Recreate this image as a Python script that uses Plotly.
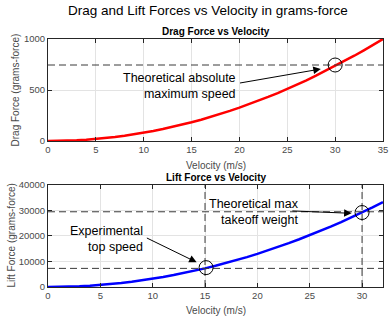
import plotly.graph_objects as go

# ---------------- data ----------------
drag_velocity = list(range(0, 36))
drag_force = [0, 1, 3, 7, 13, 20, 29, 40, 52, 66, 82, 99, 118, 138, 160, 184, 209, 236,
              265, 295, 327, 360, 395, 432, 470, 510, 552, 595, 640, 687, 735, 785, 836,
              889, 944, 1000]

lift_velocity = list(range(0, 33))
lift_force = [0, 30, 130, 290, 520, 810, 1170, 1590, 2080, 2630, 3250, 3930, 4680, 5490,
              6370, 7310, 8320, 9390, 10530, 11730, 13000, 14330, 15730, 17190, 18720,
              20310, 21970, 23690, 25480, 27330, 29250, 31230, 33280]

drag_max_level = 745
drag_circle = (30, 745)
lift_levels = [29500, 7300]
lift_vlines = [15, 30]
lift_circles_x = [15.1, 30]
lift_circles_y = [7600, 29200]

drag_xticks = [0, 5, 10, 15, 20, 25, 30, 35]
drag_yticks = [0, 500, 1000]
lift_xticks = [0, 5, 10, 15, 20, 25, 30]
lift_yticks = [0, 10000, 20000, 30000, 40000]
lift_yticklabels = ["0", "10000", "20000", "30000", "40000"]

FONT = "Liberation Sans, Arial, Helvetica, sans-serif"
AX = "#262626"
TICKC = "#4a4a4a"
GRID = "#e3e3e3"
DASHC = "#3a3a3a"

fig = go.Figure()

# drag curve
fig.add_trace(go.Scatter(x=drag_velocity, y=drag_force, mode="lines",
                         line=dict(color="#ff0000", width=2.5), xaxis="x", yaxis="y",
                         showlegend=False, hoverinfo="skip"))
# drag dashed level
fig.add_trace(go.Scatter(x=[0, 35], y=[drag_max_level, drag_max_level], mode="lines",
                         line=dict(color=DASHC, width=1, dash="7px,4px"),
                         xaxis="x", yaxis="y", showlegend=False, hoverinfo="skip"))
fig.add_trace(go.Scatter(x=[drag_circle[0]], y=[drag_circle[1]], mode="markers",
                         marker=dict(symbol="circle-open", size=14, color="black",
                                     line=dict(width=1, color="black")),
                         xaxis="x", yaxis="y", showlegend=False, hoverinfo="skip"))

# lift curve
fig.add_trace(go.Scatter(x=lift_velocity, y=lift_force, mode="lines",
                         line=dict(color="#0000ff", width=2.5), xaxis="x2", yaxis="y2",
                         showlegend=False, hoverinfo="skip"))
for lv in lift_levels:
    fig.add_trace(go.Scatter(x=[0, 32], y=[lv, lv], mode="lines",
                             line=dict(color=DASHC, width=1, dash="7px,4px"),
                             xaxis="x2", yaxis="y2", showlegend=False, hoverinfo="skip"))
for vx in lift_vlines:
    fig.add_trace(go.Scatter(x=[vx, vx], y=[0, 40000], mode="lines",
                             line=dict(color=DASHC, width=1, dash="7px,4px"),
                             xaxis="x2", yaxis="y2", showlegend=False, hoverinfo="skip"))
fig.add_trace(go.Scatter(x=lift_circles_x, y=lift_circles_y, mode="markers",
                         marker=dict(symbol="circle-open", size=14, color="black",
                                     line=dict(width=1, color="black")),
                         xaxis="x2", yaxis="y2", showlegend=False, hoverinfo="skip"))

axis_common = dict(showgrid=True, gridcolor=GRID, gridwidth=1, zeroline=False,
                   showline=True, linecolor=AX, linewidth=1, mirror="allticks",
                   ticks="inside", ticklen=4, tickcolor=AX, tickwidth=1,
                   ticklabeloverflow="allow",
                   tickfont=dict(family=FONT, size=9.5, color=TICKC))

fig.update_layout(
    width=391, height=320,
    margin=dict(l=48, r=3, t=39, b=33),
    paper_bgcolor="white", plot_bgcolor="white",
    xaxis=dict(domain=[0, 1], range=[0, 35], tickvals=drag_xticks, anchor="y",
               **axis_common),
    yaxis=dict(domain=[0.5887, 1], range=[0, 1000], tickvals=drag_yticks, anchor="x",
               **axis_common),
    xaxis2=dict(domain=[0, 1], range=[0, 32], tickvals=lift_xticks, anchor="y2",
                **axis_common),
    yaxis2=dict(domain=[0, 0.4113], range=[0, 40000], tickvals=lift_yticks,
                ticktext=lift_yticklabels, anchor="x2", **axis_common),
)

ann = []
# main title
ann.append(dict(text="Drag and Lift Forces vs Velocity in grams-force", xref="paper", yref="paper",
                x=(210 - 48) / 340, y=(320 - 10 - 33) / 248, xanchor="center", yanchor="middle",
                showarrow=False, font=dict(family=FONT, size=13.5, color="black")))
# subplot titles
ann.append(dict(text="<b>Drag Force vs Velocity</b>", xref="paper", yref="paper",
                x=0.5, y=(320 - 32 - 33) / 248, xanchor="center", yanchor="middle",
                showarrow=False, font=dict(family=FONT, size=10, color="black")))
ann.append(dict(text="<b>Lift Force vs Velocity</b>", xref="paper", yref="paper",
                x=0.5, y=(320 - 177 - 33) / 248, xanchor="center", yanchor="middle",
                showarrow=False, font=dict(family=FONT, size=10, color="black")))
# axis titles
ann.append(dict(text="Velocity (m/s)", xref="paper", yref="paper",
                x=0.5, y=(320 - 165 - 33) / 248, xanchor="center", yanchor="middle",
                showarrow=False, font=dict(family=FONT, size=10, color=TICKC)))
ann.append(dict(text="Velocity (m/s)", xref="paper", yref="paper",
                x=0.5, y=(320 - 310 - 33) / 248, xanchor="center", yanchor="middle",
                showarrow=False, font=dict(family=FONT, size=10, color=TICKC)))
ann.append(dict(text="Drag Force (grams-force)", xref="paper", yref="y domain",
                x=(15 - 48) / 340, y=0.5, xanchor="center", yanchor="middle", textangle=-90,
                showarrow=False, font=dict(family=FONT, size=10, color=TICKC)))
ann.append(dict(text="Lift Force (grams-force)", xref="paper", yref="y2 domain",
                x=(11 - 48) / 340, y=0.5, xanchor="center", yanchor="middle", textangle=-90,
                showarrow=False, font=dict(family=FONT, size=10, color=TICKC)))

# text labels
TF = dict(family=FONT, size=12.5, color="black")
ann.append(dict(text="Theoretical absolute<br>maximum speed", xref="x", yref="y",
                x=19.8, y=540, xanchor="right", yanchor="middle", align="right",
                showarrow=False, font=TF))
ann.append(dict(text="Experimental<br>top speed", xref="x2", yref="y2",
                x=9.3, y=18900, xanchor="right", yanchor="middle", align="right",
                showarrow=False, font=TF))
ann.append(dict(text="Theoretical max<br>takeoff weight", xref="x2", yref="y2",
                x=24.2, y=29400, xanchor="right", yanchor="middle", align="right",
                showarrow=False, font=TF))
# arrows
ann.append(dict(text="", x=28.5, y=706, ax=19.9, ay=566, xref="x", yref="y",
                axref="x", ayref="y", showarrow=True, arrowhead=2, arrowsize=1.5,
                arrowwidth=1, arrowcolor="black", standoff=0))
ann.append(dict(text="", x=14.2, y=9700, ax=9.3, ay=19500, xref="x2", yref="y2",
                axref="x2", ayref="y2", showarrow=True, arrowhead=2, arrowsize=1.5,
                arrowwidth=1, arrowcolor="black", standoff=0))
ann.append(dict(text="", x=29.0, y=28900, ax=23.2, ay=29850, xref="x2", yref="y2",
                axref="x2", ayref="y2", showarrow=True, arrowhead=2, arrowsize=1.5,
                arrowwidth=1, arrowcolor="black", standoff=0))

fig.update_layout(annotations=ann)
fig.write_html("out.html")
